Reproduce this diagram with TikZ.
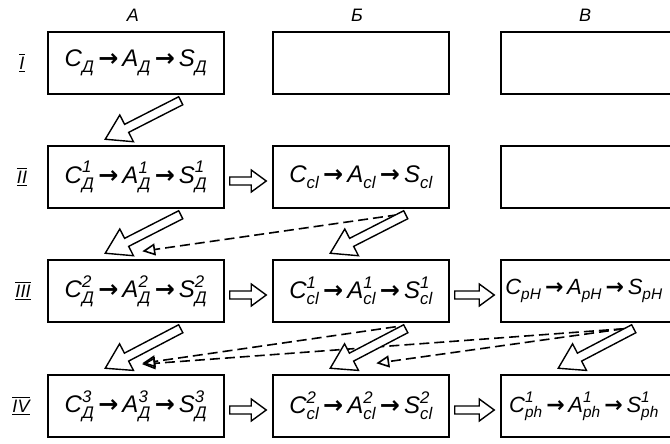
\documentclass[tikz,border=0pt]{standalone}
\usepackage{fontspec}
\usepackage{amsmath}
\setmainfont{Liberation Sans}
\newfontfamily\arrowfont{DejaVu Sans}
\usetikzlibrary{arrows.meta, positioning, calc}

% one term with sub- and superscript
\newcommand{\term}[3]{$\text{#1}^{\text{#3}}_{\text{#2}}$}
\newcommand{\ar}{\,{\arrowfont\bfseries\upshape →}\,}

% hollow arrow: tail, tip, head length, head half width, shaft half width
\newcommand{\openarrow}[5]{%
  \coordinate (oa-h) at ($(#2)!#3!(#1)$);
  \draw[hollow] ($(#1)!#5!90:(#2)$) -- ($(oa-h)!#5!-90:(#1)$) -- ($(oa-h)!#4!-90:(#1)$) -- (#2)
    -- ($(oa-h)!#4!90:(#1)$) -- ($(oa-h)!#5!90:(#1)$) -- ($(#1)!#5!-90:(#2)$) -- cycle;
}

\tikzset{
  stage/.style={draw, line width=1.5pt, minimum width=176pt, minimum height=62pt, inner sep=0pt,
    font=\fontsize{24}{26}\selectfont\itshape},
  edge stage/.style={stage, font=\fontsize{22}{24}\selectfont\itshape},
  colhead/.style={font=\fontsize{18}{20}\selectfont\itshape},
  rowlabel/.style={font=\fontsize{18}{20}\selectfont\itshape},
  feedback/.style={line width=1.6pt, dash pattern=on 10pt off 5pt,
    -{Triangle[open, length=13pt, width=12pt]}},
  hollow/.style={draw, line width=1.4pt, fill=white, line join=miter}
}

\begin{document}
\begin{tikzpicture}[x=1pt, y=-1pt]
  \useasboundingbox (0,0) rectangle (670,444);

  % column heads
  \node[colhead] (hA) at (133,15) {А};
  \node[colhead] (hB) at (357,15) {Б};
  \node[colhead] (hV) at (585,15) {В};

  % row labels
  \node[rowlabel] (r1) at (22,63) {$\overline{\underline{\text{I}}}$};
  \node[rowlabel] (r2) at (22,177) {$\overline{\underline{\text{II}}}$};
  \node[rowlabel] (r3) at (23,291) {$\overline{\underline{\text{III}}}$};
  \node[rowlabel] (r4) at (21,406) {$\overline{\underline{\text{IV}}}$};

  % column A
  \node[stage] (A1) at (136,63) {\term{C}{Д}{}\ar\term{A}{Д}{}\ar\term{S}{Д}{}};
  \node[stage] (A2) at (136,177) {\term{C}{Д}{1}\ar\term{A}{Д}{1}\ar\term{S}{Д}{1}};
  \node[stage] (A3) at (136,291) {\term{C}{Д}{2}\ar\term{A}{Д}{2}\ar\term{S}{Д}{2}};
  \node[stage] (A4) at (136,406) {\term{C}{Д}{3}\ar\term{A}{Д}{3}\ar\term{S}{Д}{3}};

  % column B
  \node[stage] (B1) at (361,63) {};
  \node[stage] (B2) at (361,177) {\term{C}{cl}{}\ar\term{A}{cl}{}\ar\term{S}{cl}{}};
  \node[stage] (B3) at (361,291) {\term{C}{cl}{1}\ar\term{A}{cl}{1}\ar\term{S}{cl}{1}};
  \node[stage] (B4) at (361,406) {\term{C}{cl}{2}\ar\term{A}{cl}{2}\ar\term{S}{cl}{2}};

  % column V (runs off the right edge)
  \node[stage] (V1) at (589,63) {};
  \node[stage] (V2) at (589,177) {};
  \node[edge stage] (V3) at (589,291) {\term{C}{pH}{}\ar\term{A}{pH}{}\ar\term{S}{pH}{}\hspace*{10pt}};
  \node[edge stage] (V4) at (589,406) {\term{C}{ph}{1}\ar\term{A}{ph}{1}\ar\term{S}{ph}{1}\hspace*{10pt}};

  % feedback (dashed)
  \draw[feedback] ($(B2.south east)+(-52,6)$) -- ($(A3.north west)+(95,-8)$);
  \draw[feedback] ($(B3.south east)+(-54,4)$) -- ($(A4.north west)+(95,-11)$);
  \draw[feedback] ($(V3.south east)+(-54,6)$) -- ($(A4.north west)+(95,-10)$);
  \draw[feedback] ($(V3.south east)+(-54,6)$) -- ($(B4.north west)+(104,-11)$);

  % transitions to the next row
  \foreach \col in {A} {
    \coordinate (t1) at ($(\col1.south east)+(-44,6)$);
    \coordinate (p1) at ($(\col2.north west)+(58,-6)$);
    \openarrow{t1}{p1}{24pt}{15pt}{4.5pt}
  }
  \foreach \col in {A,B} {
    \coordinate (t2) at ($(\col2.south east)+(-44,6)$);
    \coordinate (p2) at ($(\col3.north west)+(58,-6)$);
    \openarrow{t2}{p2}{24pt}{15pt}{4.5pt}
  }
  \foreach \col in {A,B,V} {
    \coordinate (t3) at ($(\col3.south east)+(-44,6)$);
    \coordinate (p3) at ($(\col4.north west)+(58,-6)$);
    \openarrow{t3}{p3}{24pt}{15pt}{4.5pt}
  }

  % transitions to the next column
  \foreach \row in {2,3,4} {
    \coordinate (ta) at ($(A\row.east)+(5,4)$);
    \coordinate (pa) at ($(B\row.west)+(-6,4)$);
    \openarrow{ta}{pa}{15pt}{11pt}{4pt}
  }
  \foreach \row in {3,4} {
    \coordinate (tb) at ($(B\row.east)+(5,4)$);
    \coordinate (pb) at ($(V\row.west)+(-6,4)$);
    \openarrow{tb}{pb}{15pt}{11pt}{4pt}
  }
\end{tikzpicture}
\end{document}
